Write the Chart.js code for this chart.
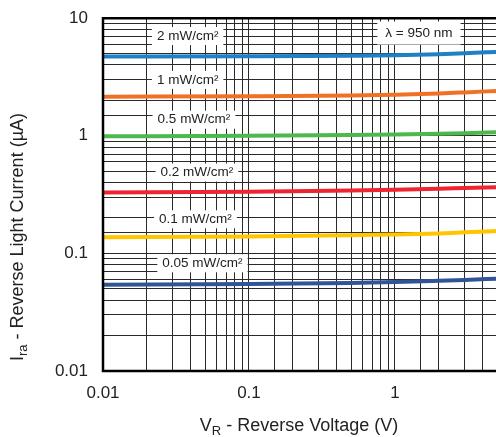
<!DOCTYPE html>
<html>
<head>
<meta charset="utf-8">
<script src="https://cdn.jsdelivr.net/npm/chart.js@4.4.0/dist/chart.umd.min.js"></script>
<style>
  body { margin: 0; background: #fff; overflow: hidden; }
  #wrap { width: 509px; height: 444px; margin-top: -7px; }
</style>
</head>
<body>
<div id="wrap"><canvas id="chart"></canvas></div>
<script>
// reverse voltage (V)
const voltages = [0.01, 0.1, 0.5, 1, 2, 3, 5];

// reverse light current (uA) per irradiance
const curve2mW   = [4.72, 4.75, 4.79, 4.83, 4.94, 5.03, 5.17];
const curve1mW   = [2.15, 2.17, 2.20, 2.23, 2.29, 2.34, 2.41];
const curve05mW  = [0.99, 1.00, 1.015, 1.027, 1.042, 1.053, 1.07];
const curve02mW  = [0.330, 0.335, 0.343, 0.348, 0.355, 0.360, 0.366];
const curve01mW  = [0.137, 0.139, 0.143, 0.145, 0.148, 0.151, 0.155];
const curve005mW = [0.054, 0.055, 0.056, 0.057, 0.0585, 0.0595, 0.061];

const seriesNames  = ['2 mW/cm²', '1 mW/cm²', '0.5 mW/cm²', '0.2 mW/cm²', '0.1 mW/cm²', '0.05 mW/cm²'];
const seriesValues = [curve2mW, curve1mW, curve05mW, curve02mW, curve01mW, curve005mW];
const seriesColors = ['#1f80c6', '#f07126', '#4db84e', '#ee2530', '#ffc600', '#2f5597'];

// in-plot labels: [text, voltage, current]
const labelText = ['2 mW/cm²', '1 mW/cm²', '0.5 mW/cm²', '0.2 mW/cm²', '0.1 mW/cm²', '0.05 mW/cm²', 'λ = 950 nm'];
const labelX    = [0.038, 0.038, 0.042, 0.044, 0.043, 0.048, 1.46];
const labelY    = [7.05, 2.99, 1.37, 0.487, 0.195, 0.0824, 7.47];

const xTickLabels = [0.01, 0.1, 1];
const yTickLabels = [0.01, 0.1, 1, 10];

const FONT = '"Liberation Sans", Arial, sans-serif';

function isLabelled(v, list) {
    return list.some(t => Math.abs(t - v) / t < 1e-6);
}

const datasets = seriesValues.map((vals, i) => ({
    label: seriesNames[i],
    data: voltages.map((v, j) => ({ x: v, y: vals[j] })),
    borderColor: seriesColors[i],
    borderWidth: 4,
    pointRadius: 0,
    cubicInterpolationMode: 'monotone',
    fill: false
}));

// white boxed labels drawn under the curves
const boxLabels = {
    id: 'boxLabels',
    beforeDatasetsDraw(chart) {
        const ctx = chart.ctx;
        const xs = chart.scales.x, ys = chart.scales.y;
        ctx.save();
        ctx.font = '13.5px ' + FONT;
        ctx.textAlign = 'center';
        ctx.textBaseline = 'middle';
        labelText.forEach((t, i) => {
            const px = xs.getPixelForValue(labelX[i]);
            const py = ys.getPixelForValue(labelY[i]);
            const w = ctx.measureText(t).width + (i === 6 ? 16 : 10);
            const h = i === 6 ? 23 : 18;
            ctx.fillStyle = '#fff';
            ctx.fillRect(px - w / 2, py - h / 2, w, h);
            ctx.fillStyle = '#222';
            ctx.fillText(t, px, py);
        });
        ctx.restore();
    }
};

// frame and axis titles with subscripts
const frameAndTitles = {
    id: 'frameAndTitles',
    afterDraw(chart) {
        const ctx = chart.ctx;
        const a = chart.chartArea;
        ctx.save();
        ctx.strokeStyle = '#000';
        ctx.lineWidth = 2.5;
        ctx.beginPath();
        ctx.moveTo(a.right + 5, a.top);
        ctx.lineTo(a.left, a.top);
        ctx.lineTo(a.left, a.bottom);
        ctx.lineTo(a.right + 5, a.bottom);
        ctx.stroke();

        ctx.fillStyle = '#222';
        ctx.textBaseline = 'alphabetic';
        const big = '18px ' + FONT;
        const small = '13px ' + FONT;

        function subTitle(main, sub, rest) {
            ctx.font = big;
            const w1 = ctx.measureText(main).width;
            const w3 = ctx.measureText(rest).width;
            ctx.font = small;
            const w2 = ctx.measureText(sub).width;
            let x = -(w1 + w2 + w3) / 2;
            ctx.font = big;
            ctx.fillText(main, x, 6);
            ctx.font = small;
            ctx.fillText(sub, x + w1, 10);
            ctx.font = big;
            ctx.fillText(rest, x + w1 + w2, 6);
        }

        // canvas is shifted 7px up inside the page
        ctx.save();
        ctx.translate(299, 432);
        subTitle('V', 'R', ' - Reverse Voltage (V)');
        ctx.restore();

        ctx.save();
        ctx.translate(17, 244);
        ctx.rotate(-Math.PI / 2);
        subTitle('I', 'ra', ' - Reverse Light Current (µA)');
        ctx.restore();

        ctx.restore();
    }
};

new Chart(document.getElementById('chart'), {
    type: 'line',
    data: { datasets: datasets },
    options: {
        responsive: true,
        maintainAspectRatio: false,
        animation: false,
        layout: { padding: 0 },
        plugins: {
            legend: { display: false },
            tooltip: { enabled: false }
        },
        scales: {
            x: {
                type: 'logarithmic',
                min: 0.01,
                max: 5,
                afterFit(scale) { scale.height = 66; },
                grid: { color: '#2a2a2a', lineWidth: 1, drawTicks: false },
                border: { display: false },
                ticks: {
                    autoSkip: false,
                    maxRotation: 0,
                    padding: 12,
                    color: '#222',
                    font: { size: 17, family: FONT },
                    callback: v => isLabelled(v, xTickLabels) ? String(v) : ''
                }
            },
            y: {
                type: 'logarithmic',
                min: 0.01,
                max: 10,
                afterFit(scale) { scale.width = 103; },
                grid: { color: '#2a2a2a', lineWidth: 1, drawTicks: false },
                border: { display: false },
                ticks: {
                    autoSkip: false,
                    padding: 15,
                    color: '#222',
                    font: { size: 17, family: FONT },
                    callback: v => isLabelled(v, yTickLabels) ? String(v) : ''
                }
            }
        }
    },
    plugins: [boxLabels, frameAndTitles]
});
</script>
</body>
</html>
